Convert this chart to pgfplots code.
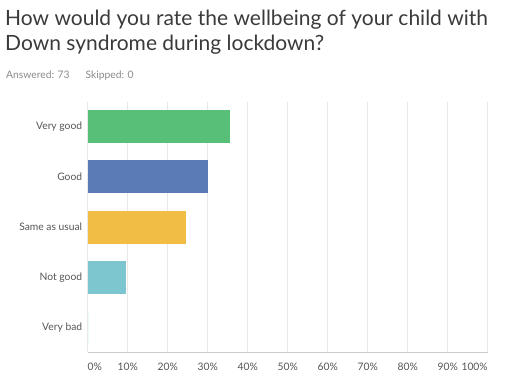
\documentclass[border=0pt]{standalone}
\usepackage{pgfplots}
\pgfplotsset{compat=1.18}
\usepackage{fontspec}
\setmainfont{Lato}
\definecolor{cgreen}{HTML}{57BF78}
\definecolor{cblue}{HTML}{5A7BB5}
\definecolor{cyellow}{HTML}{F2BD44}
\definecolor{cteal}{HTML}{7EC6CF}
\definecolor{titlegray}{HTML}{3A3A3A}
\definecolor{subgray}{HTML}{8A8A8A}
\definecolor{labgray}{HTML}{555555}
\begin{document}
\begin{tikzpicture}
\useasboundingbox (0pt,0pt) rectangle (508pt,-382pt);
\node[anchor=base west,inner sep=0pt,font=\fontsize{21}{25}\selectfont,text=titlegray] at (5pt,-26pt) {How would you rate the wellbeing of your child with};
\node[anchor=base west,inner sep=0pt,font=\fontsize{21}{25}\selectfont,text=titlegray] at (5pt,-51pt) {Down syndrome during lockdown?};
\node[anchor=base west,inner sep=0pt,font=\fontsize{10.3}{12}\selectfont,text=subgray] at (6pt,-78.3pt) {Answered: 73\hspace{16pt}Skipped: 0};
\begin{axis}[
  at={(87.7pt,-352pt)}, anchor=south west,
  scale only axis, width=400pt, height=250pt,
  xbar, bar width=33pt, bar shift=0pt,
  xmin=0, xmax=100,
  ymin=-0.48, ymax=4.48, y dir=reverse,
  ytick={0,1,2,3,4},
  yticklabels={Very good,Good,Same as usual,Not good,Very bad},
  xtick={0,10,...,100},
  xticklabels={\makebox[0pt][l]{0\%},10\%,20\%,30\%,40\%,50\%,60\%,70\%,80\%,90\%,\makebox[0pt][r]{100\%}},
  xmajorgrids, grid style={draw=black!9, line width=0.6pt},
  axis line style={draw=none},
  major tick length=0pt,
  tick label style={font=\fontsize{10.3}{12}\selectfont, text=labgray},
  yticklabel style={xshift=-2pt},
  xticklabel style={yshift=-7pt},
  clip=false,
]
\addplot[fill=cgreen, draw=none] coordinates {(35.62,0)};
\addplot[fill=cblue, draw=none] coordinates {(30.14,1)};
\addplot[fill=cyellow, draw=none] coordinates {(24.66,2)};
\addplot[fill=cteal, draw=none] coordinates {(9.59,3)};
\addplot[fill=cteal, draw=none] coordinates {(0,4)};
\draw[black!20, line width=0.8pt] (axis cs:0,4.48) -- (axis cs:100,4.48);
\end{axis}
\end{tikzpicture}
\end{document}
